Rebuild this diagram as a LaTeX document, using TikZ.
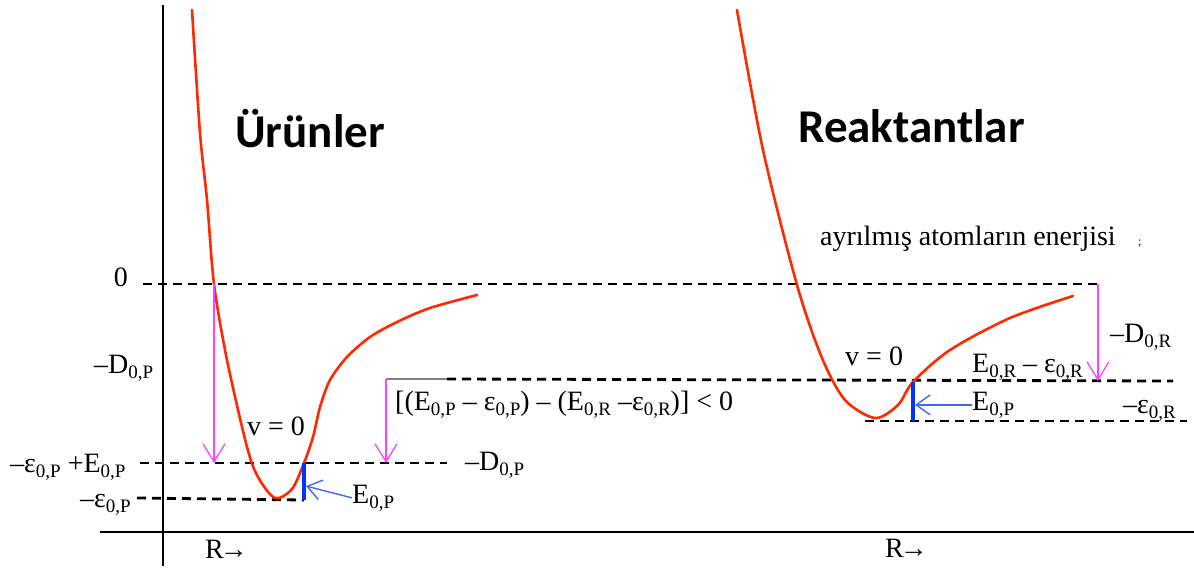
\documentclass[tikz,border=0pt]{standalone}
\usepackage{fontspec}
\setmainfont{Liberation Serif}
\newfontfamily\titlefont{Carlito}
\usetikzlibrary{arrows.meta}
\definecolor{curvered}{RGB}{255,40,0}
\definecolor{droppink}{RGB}{255,64,255}
\definecolor{zpeblue}{RGB}{0,51,255}
\newcommand{\ix}[1]{\raisebox{-0.4ex}{\fontsize{19}{19}\selectfont #1}}

\begin{document}
\begin{tikzpicture}[x=1pt, y=-1pt,
  lbl/.style={font=\fontsize{28}{30}\selectfont, inner sep=0pt},
  title/.style={font=\titlefont\bfseries\fontsize{47}{50}\selectfont, inner sep=0pt},
  axis/.style={line width=2.6pt},
  level/.style={line width=2.8pt, dash pattern=on 9pt off 6pt},
  curve/.style={curvered, line width=2.6pt, line cap=round, line join=round},
  drop/.style={droppink, line width=1.3pt, -{Straight Barb[length=18pt, width=22pt]}},
  zpe/.style={zpeblue, line width=4.5pt},
  point/.style={zpeblue!75!white, line width=1.4pt, -{Straight Barb[length=14pt, width=20pt]}}
]
\useasboundingbox (0,0) rectangle (1194,568);

% axes
\draw[axis] (163,5) -- (163,566);
\draw[axis] (100,532) -- (1194,532);

% named points on the levels
\coordinate (zeroP) at (214,284);
\coordinate (zeroR) at (1098,284);
\coordinate (topP) at (214,463);
\coordinate (gapT) at (386,379);
\coordinate (gapB) at (386,463);
\coordinate (topR) at (1098,381);
\coordinate (barPt) at (304,463);
\coordinate (barPb) at (304,500);
\coordinate (barRt) at (913,382);
\coordinate (barRb) at (913,421);

% energy levels
\draw[level] (143,284) -- (zeroR);
\draw[level] (140,463) -- (447,463);
\draw[level] (137,498) -- (barPb);
\draw[gray, line width=1.5pt] (gapT) -- (447,379);
\draw[level] (447,379) -- (1173,381);
\draw[level] (865,421) -- (1187,421);

% potential curves
\draw[curve] plot[smooth, tension=0.5] coordinates {(192,10) (200,133) (207,200) (214,284) (227,360) (247,447) (258,477) (275,498) (292,489) (304,463) (313,437) (320,407) (330,380) (347,357) (370,337) (397,322) (430,308) (477,295)};
\draw[curve] plot[smooth, tension=0.5] coordinates {(737,10) (763,150) (797,285) (822,358) (845,400) (875,418) (898,405) (913,382) (950,350) (1010,318) (1073,296)};

% labels
\node[title, anchor=base west] (prod) at (235,147) {Ürünler};
\node[title, anchor=base west] (reac) at (798,142) {Reaktantlar};
\node[lbl, anchor=base west] (ayr) at (820,245) {ayrılmış atomların enerjisi};
\node[font=\fontsize{12}{12}\selectfont, inner sep=0pt, anchor=base west] (semi) at (1138,245) {;};
\node[lbl, anchor=base east] (zero) at (128,286) {0};
\node[lbl, anchor=base west] (dP) at (94,373) {–D\ix{0,P}};
\node[lbl, anchor=base west] (epsE) at (10,472) {–ε\ix{0,P} +E\ix{0,P}};
\node[lbl, anchor=base west] (epsP) at (80,507) {–ε\ix{0,P}};
\node[lbl, anchor=base west] (vP) at (247,435) {v = 0};
\node[lbl, anchor=base west] (eP) at (352,503) {E\ix{0,P}};
\node[lbl, anchor=base west] (diff) at (395,410) {[(E\ix{0,P} – ε\ix{0,P}) – (E\ix{0,R} –ε\ix{0,R})] < 0};
\node[lbl, anchor=base west] (dPm) at (465,470) {–D\ix{0,P}};
\node[lbl, anchor=base west] (vR) at (845,365) {v = 0};
\node[lbl, anchor=base west] (eReps) at (972,372) {E\ix{0,R} – ε\ix{0,R}};
\node[lbl, anchor=base west] (eR) at (972,410) {E\ix{0,P}};
\node[lbl, anchor=base west] (dR) at (1110,342) {–D\ix{0,R}};
\node[lbl, anchor=base west] (epsR) at (1123,413) {–ε\ix{0,R}};
\node[lbl, anchor=base west] (axP) at (205,558) {R\kern-4pt→};
\node[lbl, anchor=base west] (axR) at (885,557) {R\kern-4pt→};

% drops
\draw[drop] (zeroP) -- (topP);
\draw[drop] (gapT) -- (gapB);
\draw[drop] (zeroR) -- (topR);

% zero point energy bars
\draw[zpe] (barPt) -- (barPb);
\draw[zpe] (barRt) -- (barRb);
\draw[point] (eP.west) -- ([xshift=2pt]barPt |- 0,486);
\draw[point] (eR.west) -- ([xshift=2pt]barRt |- eR.west);
\end{tikzpicture}
\end{document}
